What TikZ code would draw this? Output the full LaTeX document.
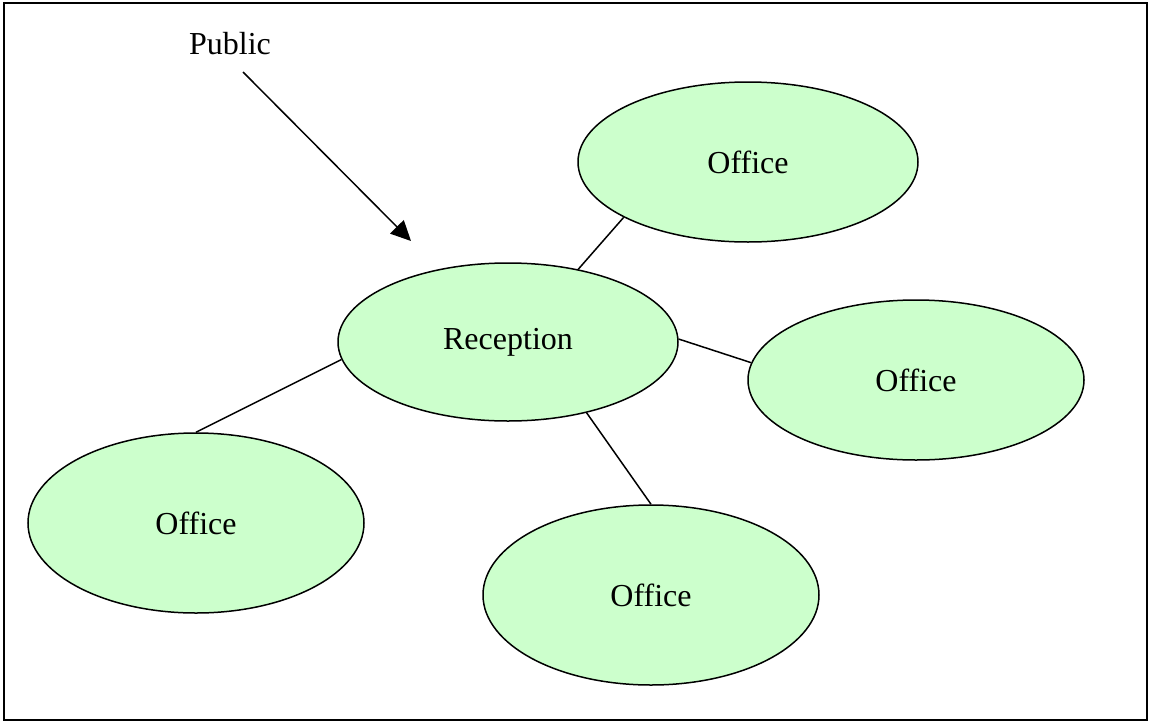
\documentclass[tikz,border=0pt]{standalone}
\usepackage{fontspec}
\setmainfont{Liberation Serif}
\usetikzlibrary{shapes.geometric, arrows.meta}
\definecolor{roomgreen}{HTML}{CCFFCC}
\tikzstyle{room} = [ellipse, draw=black, fill=roomgreen, line width=1.5pt, inner sep=0pt, font=\fontsize{32}{36}\selectfont]
\tikzstyle{link} = [line width=1.5pt]
\tikzstyle{arrow} = [line width=1.5pt, -{Triangle[length=20pt,width=19pt]}]

\begin{document}
\begin{tikzpicture}[x=1pt, y=-1pt]
	\draw [line width=2.5pt] (4,3) rectangle (1147,720);
	\useasboundingbox (0,0) rectangle (1151,723);
	\node (reception) [room, minimum width=340pt, minimum height=158pt] at (508,342) {Reception};
	\node (officeTop) [room, minimum width=340pt, minimum height=160pt] at (748,162) {Office};
	\node (officeRight) [room, minimum width=336pt, minimum height=160pt] at (916,380) {Office};
	\node (officeLeft) [room, minimum width=336pt, minimum height=180pt] at (196,523) {Office};
	\node (officeBottom) [room, minimum width=336pt, minimum height=180pt] at (651,595) {Office};
	\node (public) [font=\fontsize{32}{36}\selectfont] at (230,44) {Public};
	\coordinate (publicStart) at (243,72);
	\coordinate (publicEnd) at (411,241);

	\draw [arrow] (publicStart) -- (publicEnd);
	\draw [link] (reception.46) -- (officeTop.204);
	\draw [link] (reception.1) -- (officeRight.174);
	\draw [link] (reception.186) -- (officeLeft.90);
	\draw [link] (reception.318) -- (officeBottom.90);
\end{tikzpicture}
\end{document}
